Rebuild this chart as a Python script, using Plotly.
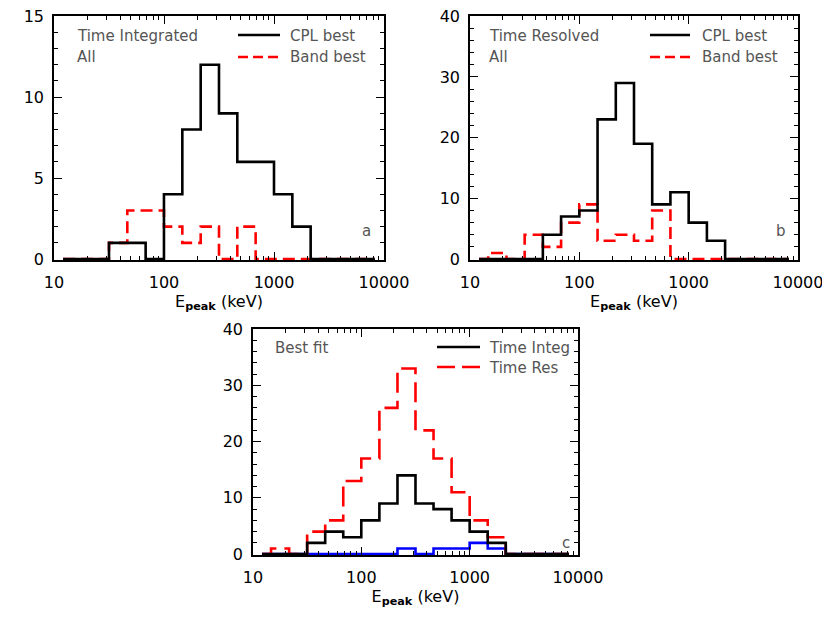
import plotly.graph_objects as go

# Epeak histogram bins (centres of 1/6-decade bins between 10 and 10^4 keV)
EPEAK_BINS = [12.1, 17.8, 26.1, 38.3, 56.2, 82.5, 121, 178, 261, 383,
              562, 825, 1212, 1778, 2610, 3831, 5623, 8254]

# panel a: time integrated
TI_CPL = [0, 0, 0, 1, 1, 0, 4, 8, 12, 9, 6, 6, 4, 2, 0, 0, 0, 0]
TI_BAND = [0, 0, 0, 1, 3, 3, 2, 1, 2, 0, 2, 0, 0, 0, 0, 0, 0, 0]

# panel b: time resolved
TR_CPL = [0, 0, 0, 0, 4, 7, 8, 23, 29, 19, 9, 11, 6, 3, 0, 0, 0, 0]
TR_BAND = [0, 1, 0, 4, 2, 6, 9, 3, 4, 3, 8, 0, 0, 0, 0, 0, 0, 0]

# panel c: best fit
BEST_INTEG = [0, 0, 0, 2, 4, 3, 6, 9, 14, 9, 8, 6, 4, 2, 0, 0, 0, 0]
BEST_RES = [0, 1, 0, 4, 6, 13, 17, 26, 33, 22, 17, 11, 6, 3, 0, 0, 0, 0]
BEST_OTHER = [0, 0, 0, 0, 0, 0, 0, 0, 1, 0, 1, 1, 2, 1, 0, 0, 0, 0]

X_TICKS = [10, 100, 1000, 10000]

# page body adds an 8px margin, so the figure is drawn 8px smaller and shifted
OFF = 8
W, H = 830 - OFF, 624 - OFF
_C = {"black": "#000000", "red": "#FF0000", "blue": "#0000FF", "text": "#555555"}
FONT = "DejaVu Sans"


def px(x, y):
    return (x - OFF) / W, 1 - (y - OFF) / H


fig = go.Figure()

# ── panel geometry (window pixels: left, right, top, bottom) ────────────────
panels = {
    "a": (54, 384, 16, 260, 15, 5, 1),
    "b": (470, 798, 16, 260, 40, 10, 2),
    "c": (253, 578, 329, 555, 40, 10, 2),
}

axis_ids = {"a": ("x", "y", ""), "b": ("x2", "y2", "2"), "c": ("x3", "y3", "3")}

traces = {
    "a": [(TI_BAND, _C["red"], "12px,6px"), (TI_CPL, _C["black"], "solid")],
    "b": [(TR_BAND, _C["red"], "12px,6px"), (TR_CPL, _C["black"], "solid")],
    "c": [(BEST_OTHER, _C["blue"], "solid"), (BEST_RES, _C["red"], "20px,8px"),
          (BEST_INTEG, _C["black"], "solid")],
}

for key, series in traces.items():
    xa, ya, _ = axis_ids[key]
    for vals, color, dash in series:
        fig.add_trace(go.Scatter(
            x=EPEAK_BINS, y=vals, xaxis=xa, yaxis=ya,
            mode="lines", line=dict(color=color, width=2.6, dash=dash, shape="hvh"),
            showlegend=False, hoverinfo="skip",
        ))

layout = {}
for key, (l, r, t, b, ymax, ydt, yminor) in panels.items():
    xa, ya, suf = axis_ids[key]
    x0, y0 = px(l, b)
    x1, y1 = px(r, t)
    pad = ymax * 0.004
    layout["xaxis" + suf] = dict(
        type="log", range=[1, 4], domain=[x0, x1], anchor=ya, automargin=False,
        tickvals=X_TICKS, ticktext=[str(v) for v in X_TICKS],
        ticks="inside", ticklen=8, tickwidth=1.2, tickcolor="black",
        minor=dict(ticks="inside", ticklen=4, tickwidth=1, tickcolor="black", dtick="D1"),
        showline=True, linecolor="black", linewidth=1.6, mirror="allticks",
        showgrid=False, zeroline=False,
        tickfont=dict(family=FONT, size=16, color="black"),
        ticklabelstandoff=7, ticklabeloverflow="allow",
        title=dict(text="E<sub><b>peak</b></sub> (keV)", standoff=2,
                   font=dict(family=FONT, size=16, color="black")),
    )
    layout["yaxis" + suf] = dict(
        range=[-pad, ymax + pad * 0.2], domain=[y0, y1], anchor=xa, automargin=False,
        dtick=ydt, tick0=0,
        ticks="inside", ticklen=8, tickwidth=1.2, tickcolor="black",
        minor=dict(ticks="inside", ticklen=4, tickwidth=1, tickcolor="black", dtick=yminor),
        showline=True, linecolor="black", linewidth=1.6, mirror="allticks",
        showgrid=False, zeroline=False,
        tickfont=dict(family=FONT, size=16, color="black"),
        ticklabelstandoff=5, ticklabeloverflow="allow",
    )

fig.update_layout(**layout)


# ── in-panel text and hand-drawn legends ─────────────────────────────────────
def label(x, y, text, anchor="left", size=15):
    xp, yp = px(x, y)
    fig.add_annotation(x=xp, y=yp, xref="paper", yref="paper", text=text,
                       showarrow=False, xanchor=anchor, yanchor="middle",
                       font=dict(family=FONT, size=size, color=_C["text"]))


def sample(x0, x1, y, color, dash):
    a, yy = px(x0, y)
    bx, _ = px(x1, y)
    fig.add_shape(type="line", xref="paper", yref="paper", x0=a, x1=bx, y0=yy, y1=yy,
                  line=dict(color=color, width=2.6, dash=dash))


label(75, 36, "Time Integrated")
label(75, 57, "All")
sample(238, 280, 35, _C["black"], "solid")
sample(238, 280, 57, _C["red"], "10px,5px")
label(288, 36, "CPL best")
label(288, 57, "Band best")
label(360, 231, "a")

label(487, 36, "Time Resolved")
label(487, 57, "All")
sample(650, 690, 35, _C["black"], "solid")
sample(650, 690, 57, _C["red"], "10px,5px")
label(700, 36, "CPL best")
label(700, 57, "Band best")
label(774, 231, "b")

label(273, 348, "Best fit")
sample(437, 480, 347, _C["black"], "solid")
sample(437, 480, 367, _C["red"], "18px,7px")
label(487, 348, "Time Integ")
label(487, 368, "Time Res")
label(560, 543, "c")

fig.update_layout(
    width=W, height=H,
    margin=dict(l=0, r=0, t=0, b=0),
    plot_bgcolor="#FFFFFF",
    paper_bgcolor="#FFFFFF",
    showlegend=False,
)

fig.write_html("out.html")
